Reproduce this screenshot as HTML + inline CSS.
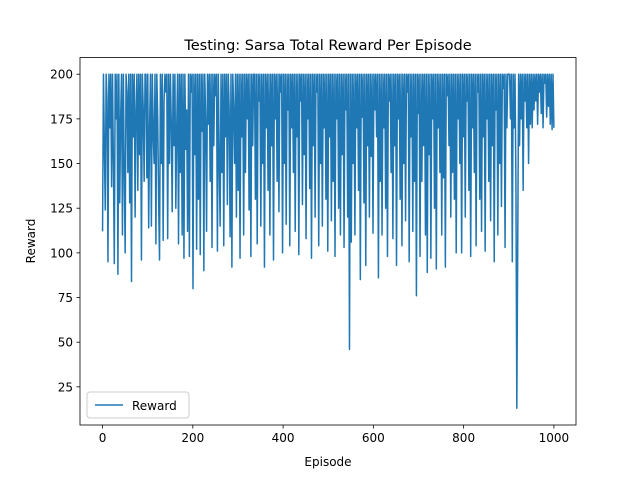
<!DOCTYPE html>
<html><head><meta charset="utf-8"><style>
body{margin:0;background:#fff}
svg text{font-family:"DejaVu Sans","Liberation Sans",sans-serif;fill:#000}
</style></head><body>
<svg id="c" width="640" height="478">
<rect width="640" height="478" fill="#fff"/>
<text x="328" y="50" font-size="14.5" text-anchor="middle">Testing: Sarsa Total Reward Per Episode</text>
<g id="plot"></g>
<rect x="80" y="57.5" width="496" height="367.5" fill="none" stroke="#000" stroke-width="0.8"/>
<g id="ax"></g>
<text x="328" y="466" font-size="12" text-anchor="middle">Episode</text>
<text x="35" y="241" font-size="12" text-anchor="middle" transform="rotate(-90 35 241)">Reward</text>
<g>
<rect x="87" y="392" width="102" height="26" rx="3" fill="#fff" fill-opacity="0.8" stroke="#ccc"/>
<line x1="95" y1="405" x2="123" y2="405" stroke="#1f77b4" stroke-width="1.5"/>
<text x="132" y="410" font-size="12">Reward</text>
</g>
</svg>
<script>
const rewards = [
112,200,160,124,200,185,95,200,170,200,137,200,150,94,200,175,200,88,200,128,175,200,110,200,145,100,200,190,145,200,128,200,84,200,165,200,120,180,200,135,200,155,200,96,200,180,140,200,200,142,
200,114,170,200,115,200,167,150,200,105,200,175,130,96,200,150,200,107,185,200,190,200,108,200,150,200,172,123,200,160,200,125,170,200,105,200,145,200,110,200,97,200,158,180,112,200,98,200,190,200,
80,200,155,200,102,200,130,200,99,200,168,200,90,200,175,112,200,172,200,140,200,103,200,160,200,188,200,101,200,150,115,200,145,200,104,200,165,200,127,200,180,109,200,92,200,180,150,200,120,200,
135,200,97,200,165,200,110,200,145,200,175,200,124,200,98,200,160,200,200,130,200,105,200,185,200,115,200,150,200,92,200,170,200,135,200,110,200,160,200,96,200,175,200,140,200,123,200,190,200,100,
200,150,200,116,200,180,200,104,200,170,200,145,200,112,200,165,200,99,200,185,200,127,200,155,200,108,200,175,200,136,200,97,200,160,200,120,200,190,200,104,200,150,200,115,200,170,200,130,200,101,
200,165,200,118,200,140,200,98,200,175,200,125,200,110,200,155,200,103,200,180,200,120,200,46,200,106,200,150,200,110,200,170,200,135,200,85,200,176,200,128,200,93,200,160,200,120,200,154,200,111,
200,180,200,165,200,86,200,140,200,110,200,170,200,125,200,98,200,185,200,145,200,108,200,160,200,93,200,175,200,130,200,104,200,150,200,118,200,190,200,95,200,165,200,112,200,140,200,76,200,178,
200,98,200,140,200,160,200,110,200,89,200,155,200,97,200,175,200,125,200,91,200,170,200,145,200,110,200,142,200,92,200,188,200,160,200,120,200,145,200,130,200,100,200,175,200,150,200,100,200,165,
200,120,200,185,200,135,200,98,200,170,200,145,200,104,200,190,200,130,200,112,200,165,200,101,200,175,200,140,200,118,200,160,200,95,200,180,200,110,200,150,200,126,200,192,200,103,200,170,200,200,
200,175,200,95,200,170,200,140,13,104,200,160,200,175,200,135,200,185,200,170,200,150,200,172,200,170,200,180,200,185,200,172,200,190,200,178,200,170,200,195,200,176,200,182,200,172,200,169,200,170
];
const xTicks = [0,200,400,600,800,1000];
const yTicks = [25,50,75,100,125,150,175,200];
const X0=80,X1=576,Y0=425,Y1=57.5,xmin=-49.95,xmax=1048.95,ymin=3.65,ymax=209.35;
const sx=v=>X0+(v-xmin)/(xmax-xmin)*(X1-X0);
const sy=v=>Y0-(v-ymin)/(ymax-ymin)*(Y0-Y1);
const NS="http://www.w3.org/2000/svg";
const plot=document.getElementById('plot'), ax=document.getElementById('ax');
const n=rewards.length;
const pts=rewards.map((r,i)=>sx(i*(1000/(n-1)))+','+sy(r)).join(' ');
const pl=document.createElementNS(NS,'polyline');
pl.setAttribute('points',pts);pl.setAttribute('fill','none');pl.setAttribute('stroke','#1f77b4');pl.setAttribute('stroke-width','1.5');pl.setAttribute('stroke-linejoin','round');


plot.appendChild(pl);
xTicks.forEach(t=>{
 const l=document.createElementNS(NS,'line');
 l.setAttribute('x1',sx(t));l.setAttribute('x2',sx(t));l.setAttribute('y1',Y0);l.setAttribute('y2',Y0+3.5);l.setAttribute('stroke','#000');l.setAttribute('stroke-width','0.8');
 
 
 ax.appendChild(l);
 const tx=document.createElementNS(NS,'text');
 tx.setAttribute('x',sx(t));tx.setAttribute('y',Y0+17);tx.setAttribute('font-size','12');tx.setAttribute('text-anchor','middle');tx.textContent=t;
 
 
 ax.appendChild(tx);
});
yTicks.forEach(t=>{
 const l=document.createElementNS(NS,'line');
 l.setAttribute('x1',X0-3.5);l.setAttribute('x2',X0);l.setAttribute('y1',sy(t));l.setAttribute('y2',sy(t));l.setAttribute('stroke','#000');l.setAttribute('stroke-width','0.8');
 
 
 ax.appendChild(l);
 const tx=document.createElementNS(NS,'text');
 tx.setAttribute('x',X0-7);tx.setAttribute('y',sy(t)+4.5);tx.setAttribute('font-size','12');tx.setAttribute('text-anchor','end');tx.textContent=t;
 
 
 ax.appendChild(tx);
});
</script>
</body></html>
